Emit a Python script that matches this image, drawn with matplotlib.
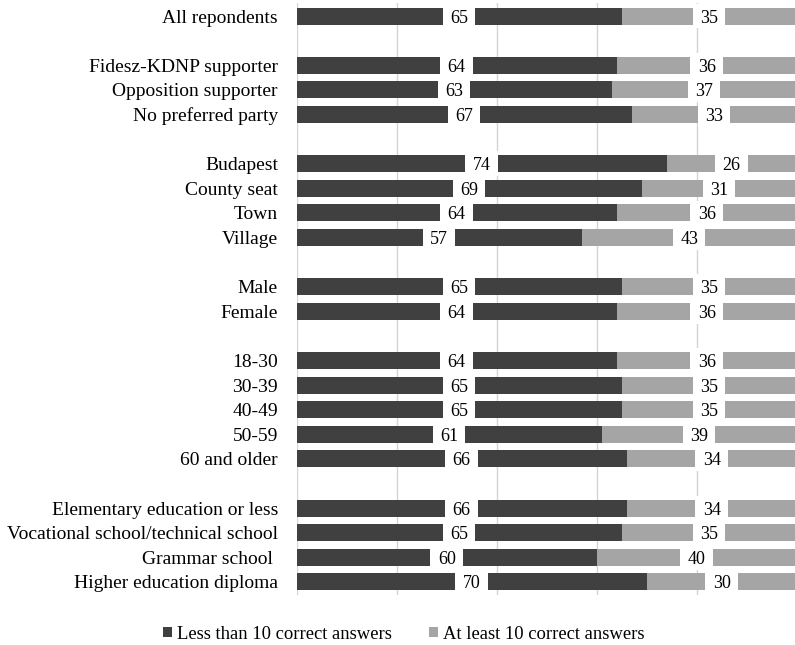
import matplotlib
matplotlib.use("Agg")
import matplotlib.pyplot as plt
from matplotlib.patches import Rectangle, Patch

plt.rcParams['font.family'] = ['Liberation Serif', 'DejaVu Serif']

# Category labels, top to bottom (None marks a spacer row between groups)
categories = [
    "All repondents", None,
    "Fidesz-KDNP supporter", "Opposition supporter", "No preferred party", None,
    "Budapest", "County seat", "Town", "Village", None,
    "Male", "Female", None,
    "18-30", "30-39", "40-49", "50-59", "60 and older", None,
    "Elementary education or less", "Vocational school/technical school",
    "Grammar school ", "Higher education diploma",
]
less_than_10 = [65, None, 64, 63, 67, None, 74, 69, 64, 57, None, 65, 64, None,
                64, 65, 65, 61, 66, None, 66, 65, 60, 70]
at_least_10 = [35, None, 36, 37, 33, None, 26, 31, 36, 43, None, 35, 36, None,
               36, 35, 35, 39, 34, None, 34, 35, 40, 30]
series_names = ["Less than 10 correct answers", "At least 10 correct answers"]
colors = ["#404040", "#a5a5a5"]

fig = plt.figure(figsize=(7.95, 6.45), dpi=100)
ax = fig.add_axes([296.7 / 795, 50 / 645, 500 / 795, 592 / 645])

n = len(categories)
bar_h = 0.69
box_w = 6.5

for i, (cat, a, b) in enumerate(zip(categories, less_than_10, at_least_10)):
    if cat is None:
        continue
    ax.barh(i, a, left=0, height=bar_h, color=colors[0], zorder=2)
    ax.barh(i, b, left=a, height=bar_h, color=colors[1], zorder=2)
    for left, val in ((0, a), (a, b)):
        cx = left + val / 2
        # white label backing: full row behind bars, bar height in front
        ax.add_patch(Rectangle((cx - box_w / 2, i - 0.5), box_w, 1.0,
                               facecolor="white", edgecolor="none", zorder=1.5))
        ax.add_patch(Rectangle((cx - box_w / 2, i - bar_h / 2 - 0.02), box_w,
                               bar_h + 0.04, facecolor="white",
                               edgecolor="none", zorder=3))
        ax.text(cx, i, f"{val}", ha="center", va="center_baseline",
                fontsize=13, color="black", zorder=4)

ax.set_xlim(0, 100)
ax.set_ylim(n - 0.47, -0.53)
ax.set_xticks([0, 20, 40, 60, 80, 100])
ax.set_xticklabels([])
ax.tick_params(axis="x", length=0)
ax.grid(axis="x", color="#d4d4d4", linewidth=1.0, zorder=0.5)
ax.set_axisbelow(True)

ax.set_yticks([i for i, c in enumerate(categories) if c is not None])
ax.set_yticklabels([c for c in categories if c is not None], fontsize=14)
ax.tick_params(axis="y", length=0, pad=13.5)

for s in ax.spines.values():
    s.set_visible(False)

handles = [Patch(facecolor=c, edgecolor="none") for c in colors]
fig.legend(handles, series_names, loc="center", bbox_to_anchor=(0.508, 0.017),
           ncol=2, frameon=False, fontsize=13.4, handlelength=0.5,
           handleheight=0.5, handletextpad=0.25, columnspacing=2.0)

fig.savefig("out.png", dpi=100, facecolor="white")
